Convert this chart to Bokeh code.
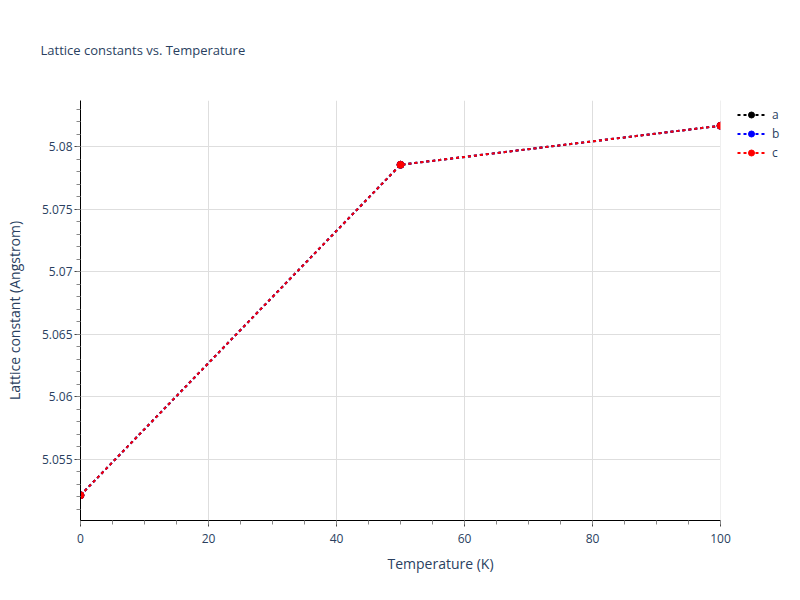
from bokeh.plotting import figure
from bokeh.models import (Range1d, FixedTicker, NumeralTickFormatter, Legend, LegendItem, Title,
                          BoxAnnotation)
from bokeh.embed import file_html
from bokeh.resources import INLINE

# ---- data ----
temperature = [0, 50, 100]
lat_a = [5.05212, 5.07856, 5.08168]
lat_b = [5.05212, 5.07856, 5.08168]
lat_c = [5.05212, 5.07856, 5.08168]
series_names = ["a", "b", "c"]
series_colors = ["black", "blue", "red"]
x_ticks = [0, 20, 40, 60, 80, 100]
x_minor = [0, 5, 10, 15, 20, 25, 30, 35, 40, 45, 50, 55, 60, 65, 70, 75, 80, 85, 90, 95, 100]
y_ticks = [5.055, 5.06, 5.065, 5.07, 5.075, 5.08]
y_minor = [5.051, 5.052, 5.053, 5.054, 5.055, 5.056, 5.057, 5.058, 5.059, 5.06, 5.061, 5.062,
           5.063, 5.064, 5.065, 5.066, 5.067, 5.068, 5.069, 5.07, 5.071, 5.072, 5.073, 5.074,
           5.075, 5.076, 5.077, 5.078, 5.079, 5.08, 5.081, 5.082, 5.083]
x_min, x_max = 0, 100
y_min, y_max = 5.0501, 5.0837

FONT = "Open Sans"
TXT = "#2a3f5f"

# frame spans x 80..800; data 0..100 occupies 80..720, the rest hosts the legend
x_end = x_max + (x_max - x_min) * 80 / 640

p = figure(width=800, height=600, output_backend="svg", toolbar_location=None,
           x_range=Range1d(x_min, x_end), y_range=Range1d(y_min, y_max),
           min_border_left=80, min_border_right=0, min_border_top=100, min_border_bottom=80)
p.outline_line_color = None
p.background_fill_color = "white"
p.border_fill_color = "white"

title = Title(text="Lattice constants vs. Temperature", align="left", offset=-40, standoff=80,
              vertical_align="top",
              text_font=FONT, text_font_size="13px", text_font_style="normal", text_color=TXT)
p.add_layout(title, "above")

for ax in (p.xaxis[0], p.yaxis[0]):
    ax.axis_line_color = "black"
    ax.axis_line_width = 1
    ax.major_tick_line_color = "#444444"
    ax.minor_tick_line_color = "#888888"
    ax.major_tick_out = 6
    ax.major_tick_in = 0
    ax.minor_tick_out = 4
    ax.minor_tick_in = 0
    ax.major_label_text_font = FONT
    ax.major_label_text_font_size = "12px"
    ax.major_label_text_color = TXT
    ax.axis_label_text_font = FONT
    ax.axis_label_text_font_size = "14px"
    ax.axis_label_text_font_style = "normal"
    ax.axis_label_text_color = TXT

p.xaxis.bounds = (x_min, x_max)
p.xaxis.ticker = FixedTicker(ticks=x_ticks, minor_ticks=x_minor)
p.yaxis.ticker = FixedTicker(ticks=y_ticks, minor_ticks=y_minor)
p.yaxis.formatter = NumeralTickFormatter(format="0.[000]")
p.xaxis.axis_label = "Temperature (K)"
p.yaxis.axis_label = "Lattice constant (Angstrom)"
p.xaxis.major_label_standoff = 7
p.yaxis.major_label_standoff = 2
p.xaxis.axis_label_standoff = 8
p.yaxis.axis_label_standoff = 15

p.xgrid.grid_line_color = "#dedede"
p.ygrid.grid_line_color = "#dedede"
p.xgrid.grid_line_width = 1
p.ygrid.grid_line_width = 1

items = []
for name, ys, col in zip(series_names, [lat_a, lat_b, lat_c], series_colors):
    l = p.line(temperature, ys, line_color=col, line_width=2, line_dash="3 3")
    s = p.scatter(temperature, ys, size=7, fill_color=col, line_color=col)
    items.append(LegendItem(label=name, renderers=[l, s]))

# blank out the area right of x=100 (plotly clips markers at the axis end)
p.add_layout(BoxAnnotation(left=x_max, fill_color="white", fill_alpha=1.0, line_color=None))

legend = Legend(items=items, location=(657, 359), orientation="vertical",
                glyph_width=28, glyph_height=15, spacing=2, padding=0, margin=0,
                label_standoff=7, label_text_font=FONT, label_text_font_size="12px",
                label_text_color=TXT, border_line_color=None, background_fill_alpha=0)
p.add_layout(legend, "center")

open("out.html", "w").write(file_html(p, INLINE))
